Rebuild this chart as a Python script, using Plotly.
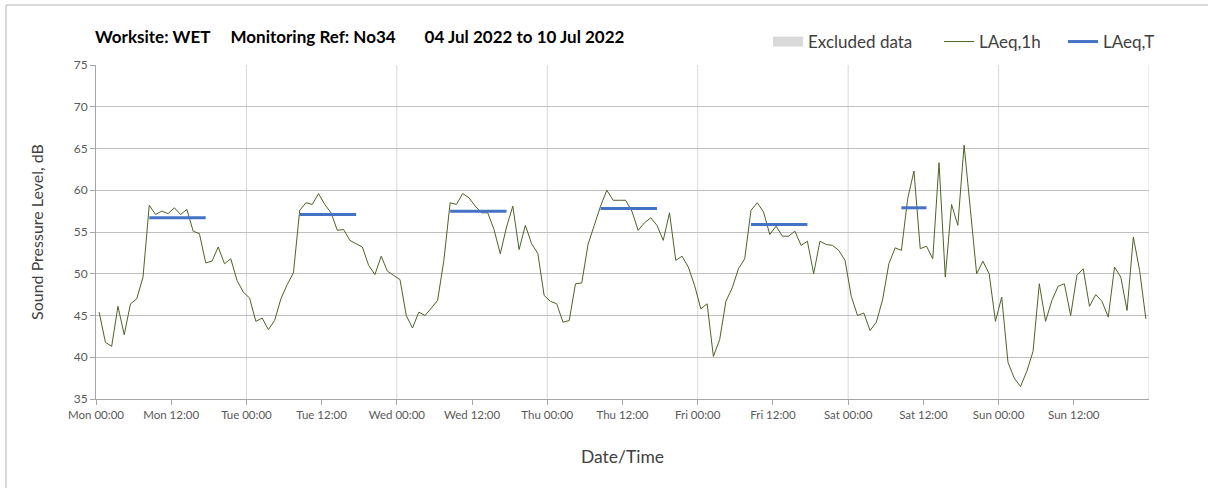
import plotly.graph_objects as go

# ---------------- data ----------------
day_names = ["Mon", "Tue", "Wed", "Thu", "Fri", "Sat", "Sun"]
tick_labels = [f"{d} {t}" for d in day_names for t in ("00:00", "12:00")]

# LAeq,1h values, hourly from Mon 00:00 to Sun 23:00
laeq_1h_mon = [45.4, 41.8, 41.3, 46.1, 42.7, 46.4, 47.0, 49.6, 58.2, 57.1, 57.5, 57.2,
               57.9, 57.1, 57.7, 55.1, 54.8, 51.3, 51.5, 53.2, 51.2, 51.8, 49.2, 47.8]
laeq_1h_tue = [47.1, 44.3, 44.7, 43.3, 44.4, 47.0, 48.7, 50.1, 57.6, 58.5, 58.3, 59.6,
               58.3, 57.3, 55.2, 55.3, 54.0, 53.6, 53.2, 51.0, 49.9, 52.1, 50.3, 49.8]
laeq_1h_wed = [49.3, 45.0, 43.5, 45.4, 45.0, 45.9, 46.8, 51.6, 58.5, 58.3, 59.6, 59.1,
               58.1, 57.3, 57.3, 55.3, 52.4, 55.6, 58.1, 52.9, 55.8, 53.6, 52.4, 47.4]
laeq_1h_thu = [46.7, 46.4, 44.2, 44.4, 48.8, 48.9, 53.5, 55.8, 58.1, 60.0, 58.8, 58.8,
               58.8, 57.5, 55.2, 56.1, 56.7, 55.8, 54.0, 57.3, 51.6, 52.1, 50.8, 48.6]
laeq_1h_fri = [45.8, 46.4, 40.1, 42.1, 46.7, 48.3, 50.6, 51.8, 57.6, 58.5, 57.4, 54.7,
               55.7, 54.5, 54.5, 55.1, 53.4, 53.9, 50.0, 53.9, 53.5, 53.4, 52.8, 51.6]
laeq_1h_sat = [47.3, 45.0, 45.3, 43.2, 44.2, 46.9, 51.2, 53.1, 52.8, 59.0, 62.3, 53.0,
               53.3, 51.8, 63.3, 49.6, 58.3, 55.8, 65.4, 57.7, 50.0, 51.5, 50.0, 44.3]
laeq_1h_sun = [47.2, 39.4, 37.5, 36.5, 38.3, 40.7, 48.8, 44.3, 46.8, 48.5, 48.8, 45.0,
               49.8, 50.6, 46.1, 47.5, 46.7, 44.8, 50.8, 49.6, 45.6, 54.4, 50.4, 44.6]

# LAeq,T for the working period of each day
laeq_t_days = ["Mon", "Tue", "Wed", "Thu", "Fri", "Sat"]
laeq_t_start_hour = [8, 8, 8, 8, 8, 8]
laeq_t_end_hour = [17, 17, 17, 17, 17, 12]
laeq_t_values = [56.7, 57.1, 57.5, 57.8, 55.9, 57.9]

# Excluded data periods (none in this week)
excluded_hours = []
excluded_levels = []

# ---------------- build ----------------
laeq_1h = (laeq_1h_mon + laeq_1h_tue + laeq_1h_wed + laeq_1h_thu +
           laeq_1h_fri + laeq_1h_sat + laeq_1h_sun)
hours = [i + 0.5 for i in range(len(laeq_1h))]

tx, ty = [], []
for d, s, e, v in zip(laeq_t_days, laeq_t_start_hour, laeq_t_end_hour, laeq_t_values):
    base = day_names.index(d) * 24
    tx += [base + s + 0.5, base + e + 0.5, None]
    ty += [v, v, None]

W, H = 1208, 488
L, R, T, B = 96, 59, 65, 89
pw, ph = W - L - R, H - T - B

FONT = "Lato"
LEG_FONT = dict(family=FONT, size=17, color="#404040")
fig = go.Figure()
fig.add_trace(go.Scatter(x=excluded_hours if excluded_hours else [None],
                         y=excluded_levels if excluded_levels else [None],
                         mode="lines", name="Excluded data", legend="legend",
                         line=dict(color="#d9d9d9", width=12)))
fig.add_trace(go.Scatter(x=hours, y=laeq_1h, mode="lines", name="LAeq,1h", legend="legend2",
                         line=dict(color="#4f6228", width=1)))
fig.add_trace(go.Scatter(x=tx, y=ty, mode="lines", name="LAeq,T", legend="legend3",
                         line=dict(color="#4472c4", width=3)))

# vertical day gridlines
for k in range(1, 8):
    fig.add_shape(type="line", xref="x", yref="paper", x0=k * 24, x1=k * 24,
                  y0=0, y1=1, line=dict(color="#d9d9d9", width=1), layer="below")

# outer chart frame (left and top edges visible)
fx = (6 - L) / pw
fy = 1 + (T - 5) / ph
fig.add_shape(type="line", xref="paper", yref="paper", x0=fx, x1=fx, y0=-1, y1=fy,
              line=dict(color="#b4b4b4", width=1))
fig.add_shape(type="line", xref="paper", yref="paper", x0=fx, x1=1.2, y0=fy, y1=fy,
              line=dict(color="#b4b4b4", width=1))


def leg(xpx):
    return dict(orientation="h", xref="container", yref="container",
                x=xpx / W, xanchor="left", y=1 - 42 / H, yanchor="middle",
                font=LEG_FONT, bgcolor="rgba(0,0,0,0)", itemwidth=30)


fig.update_layout(
    width=W, height=H,
    margin=dict(l=L, r=R, t=T, b=B, autoexpand=False),
    plot_bgcolor="white", paper_bgcolor="white",
    font=dict(family=FONT, color="#404040"),
    title=dict(text="Worksite: WET     Monitoring Ref: No34       04 Jul 2022 to 10 Jul 2022",
               font=dict(family=FONT, size=17, color="#000000", weight="bold"),
               x=95 / W, xanchor="left", xref="container",
               y=1 - 37 / H, yanchor="middle", yref="container"),
    legend=leg(768), legend2=leg(939), legend3=leg(1063),
    showlegend=True,
    xaxis=dict(range=[0, 168], tickmode="array", automargin=False,
               tickvals=list(range(0, 168, 12)), ticktext=tick_labels,
               showgrid=False, zeroline=False, showline=True, linecolor="#a6a6a6",
               ticks="outside", ticklen=5, tickcolor="#a6a6a6",
               tickfont=dict(family=FONT, size=11.5, color="#595959"),
               title=dict(text="Date/Time", font=dict(family=FONT, size=17.5, color="#404040"),
                          standoff=30)),
    yaxis=dict(range=[35, 75], dtick=5, tick0=35, automargin=False,
               showgrid=True, gridcolor="#c0c0c0", gridwidth=1, zeroline=False,
               showline=True, linecolor="#a6a6a6",
               ticks="outside", ticklen=5, tickcolor="#a6a6a6",
               tickfont=dict(family=FONT, size=12, color="#595959"),
               title=dict(text="Sound Pressure Level, dB",
                          font=dict(family=FONT, size=16, color="#404040"),
                          standoff=26)),
)

fig.write_html("out.html", config={"displayModeBar": False},
               post_script="document.body.style.margin='0px';")
